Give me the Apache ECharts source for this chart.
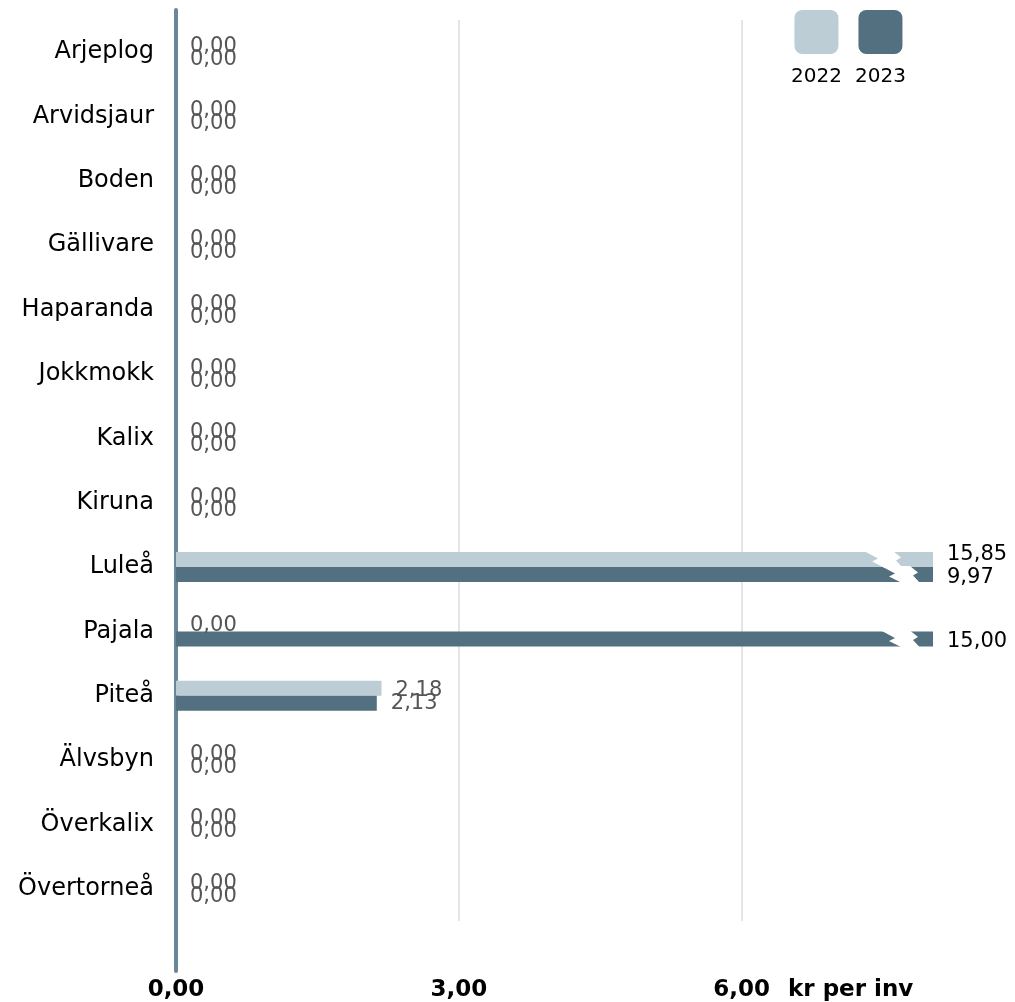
<!DOCTYPE html>
<html>
<head>
<meta charset="utf-8">
<script src="https://cdn.jsdelivr.net/npm/echarts@6/dist/echarts.min.js"></script>
<style>html,body{margin:0;padding:0;background:#fff}#c{width:1015px;height:1002px}</style>
</head>
<body>
<div id="c"></div>
<script>
const categories = ['Arjeplog','Arvidsjaur','Boden','Gällivare','Haparanda','Jokkmokk','Kalix','Kiruna','Luleå','Pajala','Piteå','Älvsbyn','Överkalix','Övertorneå'];
const seriesNames = ['2022', '2023'];
const values2022 = [0,0,0,0,0,0,0,0,15.85,0,2.18,0,0,0];
const values2023 = [0,0,0,0,0,0,0,0,9.97,15.00,2.13,0,0,0];
const tickValues = [0, 3, 6];
const axisUnit = 'kr per inv';

const AXIS_MAX = 8.03;
const COLORS = ['#bccdd6', '#52707f'];
const AXIS_COLOR = '#6a8797';
const FONT = 'DejaVu Sans';
const BAR_W = 15;

const fmt = v => v.toFixed(2).replace('.', ',');

function barData(vals, s) {
  return vals.map(v => {
    const big = v > AXIS_MAX;
    return {
      value: v,
      label: {
        color: big ? '#000' : '#555',
        offset: big ? (s === 0 ? [0, -5] : [0, 3]) : (s === 0 ? [0, 2] : [0, 0])
      }
    };
  });
}

const breakData = [];
[values2022, values2023].forEach((vals, s) => {
  vals.forEach((v, i) => { if (v > AXIS_MAX) breakData.push([AXIS_MAX, i, s]); });
});

const chart = echarts.init(document.getElementById('c'), null, { renderer: 'canvas' });

const barSeries = [values2022, values2023].map((vals, s) => ({
  type: 'bar',
  name: seriesNames[s],
  xAxisIndex: 0,
  yAxisIndex: 0,
  data: barData(vals, s),
  barWidth: BAR_W,
  barGap: '0%',
  itemStyle: { color: COLORS[s] },
  label: {
    show: true,
    position: 'right',
    distance: 14,
    fontFamily: FONT,
    fontSize: 21,
    formatter: p => fmt(vals[p.dataIndex])
  },
  z: 2
}));

chart.setOption({
  animation: false,
  grid: [
    { left: 176, right: 82, top: 20, bottom: 81 },
    { left: 176, right: 82, top: 10, bottom: 27 }
  ],
  xAxis: [
    {
      gridIndex: 0, type: 'value', min: 0, max: AXIS_MAX, interval: 3,
      axisLine: { show: false }, axisTick: { show: false }, axisLabel: { show: false },
      splitLine: { show: true, showMinLine: false, showMaxLine: false, lineStyle: { color: '#dcdcdc', width: 1.5 } }
    },
    {
      gridIndex: 1, type: 'value', min: 0, max: AXIS_MAX, interval: 3,
      axisLine: { show: false }, axisTick: { show: false }, splitLine: { show: false },
      axisLabel: {
        show: true, margin: 8, showMaxLabel: false,
        fontFamily: FONT, fontSize: 23, fontWeight: 'bold', color: '#000',
        formatter: v => tickValues.includes(v) ? fmt(v) : ''
      },
      name: axisUnit, nameLocation: 'end', nameGap: -145,
      nameTextStyle: { fontFamily: FONT, fontSize: 23, fontWeight: 'bold', color: '#000', verticalAlign: 'top', padding: [8, 0, 0, 0] }
    }
  ],
  yAxis: [
    {
      gridIndex: 0, type: 'category', data: categories, inverse: true,
      axisLine: { show: false }, axisTick: { show: false }, splitLine: { show: false },
      axisLabel: { margin: 22, fontFamily: FONT, fontSize: 24, color: '#000' }
    },
    {
      gridIndex: 1, type: 'value', min: 0, max: 1,
      axisLine: { show: true, lineStyle: { color: AXIS_COLOR, width: 4 } },
      axisTick: { show: false }, axisLabel: { show: false }, splitLine: { show: false }
    }
  ],
  series: barSeries.concat([{
    type: 'custom',
    xAxisIndex: 0, yAxisIndex: 0,
    data: breakData,
    clip: false,
    z: 5,
    renderItem: (params, api) => {
      const end = api.coord([api.value(0), api.value(1)]);
      const s = api.value(2);
      const top = end[1] - BAR_W + BAR_W * s - 1;
      const h = BAR_W + 2;
      const mid = top + h / 2;
      const bot = top + h;
      const e = end[0] + (s === 0 ? -17 : 0);
      return {
        type: 'polygon',
        shape: { points: [
          [e - 52, top], [e - 38, mid - 1], [e - 44, mid + 2], [e - 31, bot],
          [e - 13, bot], [e - 20, mid + 1], [e - 15, mid - 2], [e - 23, top]
        ] },
        style: { fill: '#fff' }
      };
    }
  }]),
  graphic: seriesNames.map((n, i) => ({
    type: 'group',
    left: 791 + i * 64,
    top: 10,
    children: [
      { type: 'rect', shape: { x: 0, y: 0, width: 44, height: 44, r: 8 }, style: { fill: COLORS[i] } },
      { type: 'text', style: { x: 22, y: 67, text: n, align: 'center', verticalAlign: 'middle', font: '20px "DejaVu Sans"', fill: '#000' } }
    ]
  }))
});
</script>
</body>
</html>
